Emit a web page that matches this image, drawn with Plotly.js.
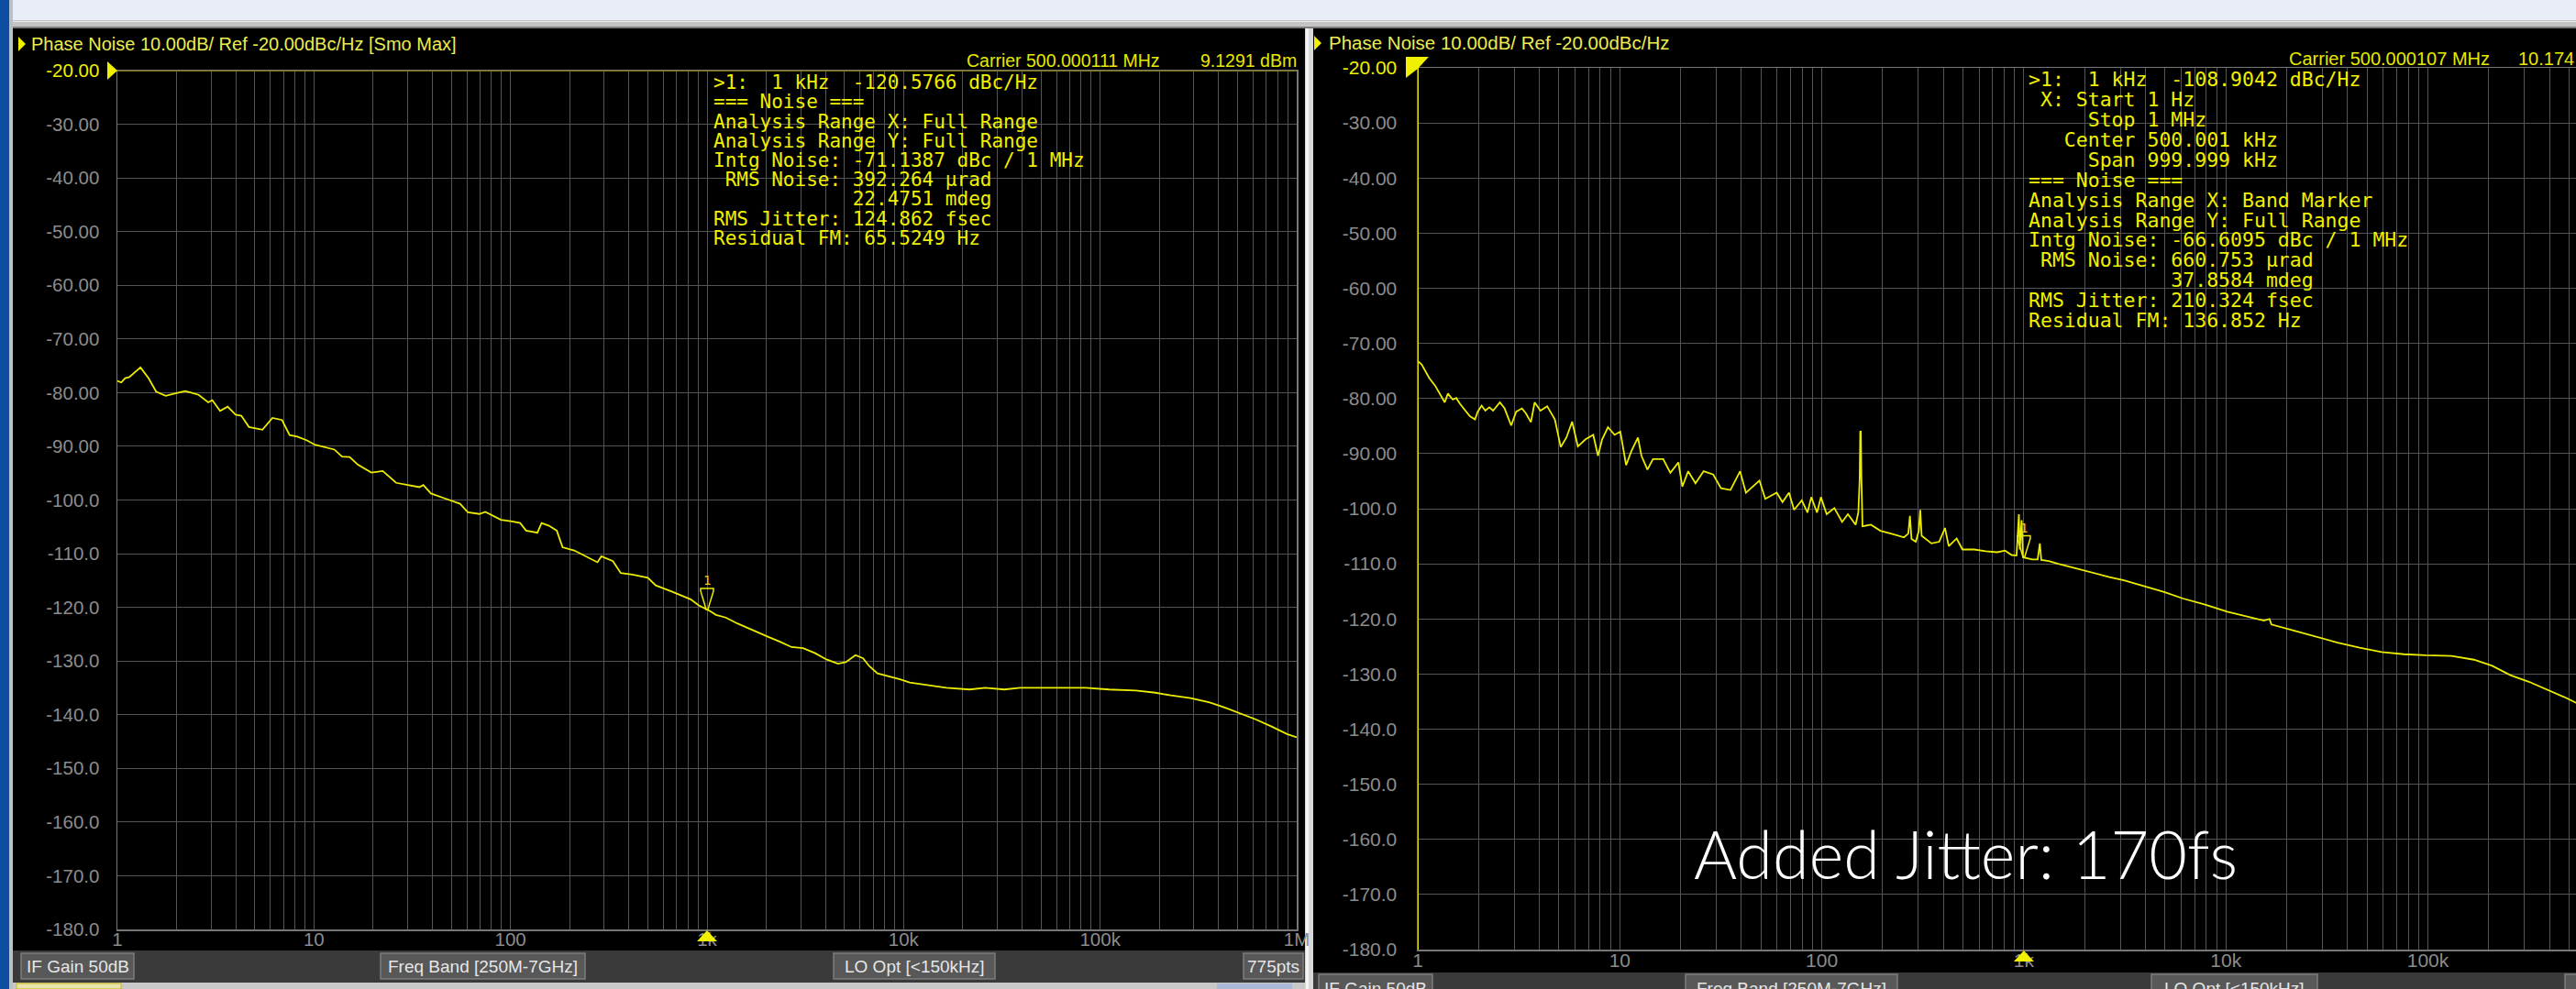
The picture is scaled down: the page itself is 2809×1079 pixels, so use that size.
<!DOCTYPE html>
<html><head><meta charset="utf-8">
<script src="https://cdn.plot.ly/plotly-3.0.1.min.js"></script>
<style>html,body{margin:0;padding:0;overflow:hidden;background:#e9edf7;} #chart{width:2900px;height:1079px;}</style>
</head><body><div id="chart"></div>
<script>
// ---------------- data ----------------
const yTickVals = [-20,-30,-40,-50,-60,-70,-80,-90,-100,-110,-120,-130,-140,-150,-160,-170,-180];
const yTickLabels = ['-20.00','-30.00','-40.00','-50.00','-60.00','-70.00','-80.00','-90.00','-100.0','-110.0','-120.0','-130.0','-140.0','-150.0','-160.0','-170.0','-180.0'];
const xDecades = [1,10,100,1000,10000,100000,1000000];
const xDecadeLabels = ['1','10','100','1k','10k','100k','1M'];

const leftFreq = [1,1.046,1.095,1.15,1.31,1.44,1.575,1.76,2.0,2.21,2.37,2.59,2.9,3.04,3.33,3.64,3.99,4.27,4.67,5.47,6.15,6.88,7.52,8.23,9.23,10.1,12.7,13.9,15.2,16.7,19.6,22.4,26.2,31.4,34.4,36.0,39.4,46.3,55.4,60.7,69.5,74.5,89.4,102,112,120,137,144,157,172,184,211,241,277,290,332,364,417,500,548,657,825,904,1000,1037,1110,1245,1426,1710,2050,2350,2690,3080,3530,4050,4630,5080,5690,6220,6670,7360,8360,9590,10740,13150,16520,21680,26000,32600,39100,53700,84500,111000,152000,191000,229000,288000,361000,433000,518000,621000,745000,893000,1000000];
const leftPN = [-77.8,-78.1,-77.3,-77.1,-75.3,-77.3,-79.8,-80.6,-80.1,-79.7,-80.0,-80.4,-81.8,-81.4,-83.4,-82.6,-84.1,-84.3,-86.4,-86.9,-84.7,-85.1,-87.9,-88.2,-88.9,-89.7,-90.6,-91.9,-92.0,-93.4,-94.9,-94.6,-96.8,-97.3,-97.6,-97.2,-98.8,-99.7,-100.7,-102.3,-102.6,-102.2,-103.7,-104.0,-104.3,-105.7,-106.1,-104.3,-104.8,-105.7,-108.8,-109.4,-110.5,-111.6,-110.5,-111.4,-113.6,-113.9,-114.5,-115.9,-117.0,-118.5,-119.6,-120.4,-120.7,-121.4,-121.9,-123.0,-124.3,-125.5,-126.4,-127.4,-127.6,-128.5,-129.7,-130.5,-130.2,-128.9,-129.5,-130.9,-132.3,-132.8,-133.4,-134.0,-134.5,-135.0,-135.3,-135.0,-135.3,-135.0,-135.0,-135.0,-135.3,-135.5,-135.9,-136.4,-136.9,-137.7,-138.7,-139.8,-140.9,-142.2,-143.6,-144.2];

const rightFreq = [1,1.045,1.14,1.22,1.36,1.41,1.49,1.55,1.62,1.81,1.92,1.98,2.07,2.16,2.26,2.36,2.55,2.69,2.9,3.07,3.28,3.43,3.63,3.79,4.05,4.37,4.77,5.10,5.44,5.81,6.2,6.77,7.39,7.8,8.18,8.74,9.42,10.06,10.75,11.4,12.3,12.8,13.7,14.6,16.4,17.8,19.5,20.4,21.8,23.7,26.0,29.0,31.7,35.3,39.4,42.1,49.1,52.5,59.8,63.9,68.8,72.9,79.6,84.9,88.7,94.7,99.0,105.7,115.4,126,134.7,147,151.6,154,155,156,157,159,175,195,224,255,268,273,278,292,302,307,312,349,381,407,425,465,497,569,647,738,807,870,920,935,945,955,975,990,1100,1170,1200,1220,1330,1480,1740,2150,2650,3130,4020,4950,6140,7890,10160,13060,15450,16440,16800,21630,27800,35700,45900,59000,75900,97500,131000,169000,208000,256000,316000,390000,481000,541000,620000,720000];
const rightPN = [-73.2,-73.8,-76.3,-77.7,-80.7,-79.1,-80.2,-79.9,-81.0,-83.2,-83.8,-82.4,-81.3,-82.2,-81.6,-82.2,-80.7,-81.8,-84.9,-82.4,-81.8,-82.7,-84.3,-80.7,-82.2,-81.4,-83.8,-88.8,-87.1,-84.2,-88.7,-87.4,-86.6,-90.4,-87.4,-85.2,-86.6,-86.0,-92.1,-89.6,-87.1,-90.4,-92.9,-91.0,-91.0,-93.5,-91.6,-96.0,-93.2,-95.4,-93.2,-93.8,-96.3,-96.6,-93.2,-97.1,-94.9,-98.2,-97.1,-98.8,-97.1,-100.2,-98.5,-100.7,-97.9,-100.7,-97.9,-101.0,-99.9,-102.4,-101.0,-102.9,-100.7,-94.5,-86.0,-86.0,-94.3,-103.2,-102.9,-104.0,-104.6,-105.2,-104.5,-101.3,-105.5,-106.0,-104.0,-100.2,-104.9,-106.3,-106.0,-103.5,-106.8,-105.4,-107.4,-107.4,-107.7,-107.9,-107.6,-108.4,-108.5,-103.8,-101.0,-107.4,-102.1,-108.8,-109.2,-109.2,-106.3,-109.3,-109.5,-110.0,-110.7,-111.6,-112.4,-113.0,-114.1,-115.1,-116.3,-117.4,-118.7,-119.6,-120.3,-120.0,-121.0,-122.1,-123.2,-124.3,-125.2,-126.0,-126.4,-126.6,-126.7,-127.4,-128.5,-130.2,-131.4,-132.8,-134.3,-135.2,-136.3,-137.5];

const markerFreq = 1000;
const leftMarkerVal = -120.5766;
const rightMarkerVal = -108.9042;

const leftTitle = 'Phase Noise 10.00dB/ Ref -20.00dBc/Hz [Smo Max]';
const rightTitle = 'Phase Noise 10.00dB/ Ref -20.00dBc/Hz';
const leftCarrier = ['Carrier 500.000111 MHz', '9.1291 dBm'];
const rightCarrier = ['Carrier 500.000107 MHz', '10.174 dBm'];
const leftInfo = [
 '>1:  1 kHz  -120.5766 dBc/Hz',
 '=== Noise ===',
 'Analysis Range X: Full Range',
 'Analysis Range Y: Full Range',
 'Intg Noise: -71.1387 dBc / 1 MHz',
 ' RMS Noise: 392.264 µrad',
 '            22.4751 mdeg',
 'RMS Jitter: 124.862 fsec',
 'Residual FM: 65.5249 Hz'];
const rightInfo = [
 '>1:  1 kHz  -108.9042 dBc/Hz',
 ' X: Start 1 Hz',
 '     Stop 1 MHz',
 '   Center 500.001 kHz',
 '     Span 999.999 kHz',
 '=== Noise ===',
 'Analysis Range X: Band Marker',
 'Analysis Range Y: Full Range',
 'Intg Noise: -66.6095 dBc / 1 MHz',
 ' RMS Noise: 660.753 µrad',
 '            37.8584 mdeg',
 'RMS Jitter: 210.324 fsec',
 'Residual FM: 136.852 Hz'];
const leftButtons = ['IF Gain 50dB','Freq Band [250M-7GHz]','LO Opt [&lt;150kHz]','775pts'];
const rightButtons = ['IF Gain 50dB','Freq Band [250M-7GHz]','LO Opt [&lt;150kHz]',''];
const overlayText = 'Added Jitter: 170fs';

// ---------------- helpers ----------------
const W = 2900, H = 1079;
const px = x => x / W;
const py = y => 1 - y / H;
const nb = s => s.replace(/ /g, '\u00a0');

const gridVals = [];
const gridText = [];
xDecades.forEach((d, i) => {
  if (i < xDecades.length - 1) {
    for (let m = 1; m <= 9; m++) { gridVals.push(m * d); gridText.push(m === 1 ? xDecadeLabels[i] : ''); }
  } else { gridVals.push(d); gridText.push(xDecadeLabels[i]); }
});
const yText = yTickLabels.map((t, i) => i === 0 ? '<span style="color:#f0f000">' + t + '</span>' : t);

const GRID = '#545454';
const LBL = '#8c8c8c';
const YEL = '#ecec00';
const UI = 'Liberation Sans, Arial, sans-serif';
const MONO = 'DejaVu Sans Mono, Liberation Mono, monospace';

function xAx(dom, size, standoff) {
  return {type:'log', range:[0,6], domain:dom, tickvals:gridVals, ticktext:gridText, showgrid:true,
    gridcolor:GRID, gridwidth:1, zeroline:false, showline:true, linecolor:'#777', linewidth:1.5, mirror:true,
    ticks:'', ticklabelstandoff:standoff, tickfont:{family:UI, size:size, color:LBL}, fixedrange:true, tickangle:0};
}
function yAx(dom, size, standoff) {
  return {range:[-180,-20], domain:dom, tickvals:yTickVals, ticktext:yText, showgrid:true, gridcolor:GRID,
    gridwidth:1, zeroline:false, showline:true, linecolor:'#777', linewidth:1.5, mirror:true, ticks:'',
    ticklabelstandoff:standoff, tickfont:{family:UI, size:size, color:LBL}, fixedrange:true};
}

// ---------------- traces ----------------
const traces = [
  {x:leftFreq, y:leftPN, xaxis:'x', yaxis:'y', mode:'lines', line:{color:YEL, width:1.8}, hoverinfo:'skip'},
  {x:rightFreq, y:rightPN, xaxis:'x2', yaxis:'y2', mode:'lines', line:{color:YEL, width:1.8}, hoverinfo:'skip'}
];

// ---------------- shapes ----------------
const rect = (x0,y0,x1,y1,fill,line,lw,layer) => ({type:'rect', xref:'paper', yref:'paper',
  x0:px(x0), x1:px(x1), y0:py(y1), y1:py(y0), fillcolor:fill, line:{color:line||fill, width:lw||0}, layer:layer||'below'});
const shapes = [
  rect(0,0,W,22,'#e9edf7'),
  rect(0,0,10,H,'#0c4ea2'),
  rect(10,0,14,H,'#b8c0cc'),
  rect(14,22,W,31,'#c4c4c4'),
  rect(14,23,W,24,'#e8e8e8'),
  rect(14,29,W,31,'#7c7c7c'),
  // left window
  rect(14,31,1423,1037,'#000000'),
  rect(14,1037,1423,1072,'#3a3a3a'),
  rect(14,1072,1423,H,'#c8c8c8'),
  rect(18,1073,132,H,'#e8e4b0','#c8b800',1),
  rect(1327,1073,1409,H,'#aab8d8'),
  // separator
  rect(1423,31,1432,H,'#d8d8d8'),
  rect(1424,31,1427,H,'#f4f4f4'),
  // right window
  rect(1432,31,W,1061,'#000000'),
  rect(1432,1061,W,H,'#3a3a3a'),
];
const lbx = [[23,146],[415,638],[909,1085],[1356,1421]];
const rbx = [[1438,1562],[1838,2069],[2346,2527],[2797,2880]];
lbx.forEach(b => shapes.push(rect(b[0],1040,b[1],1068,'#585858','#7c7c7c',1.5)));
rbx.forEach(b => shapes.push(rect(b[0],1063,b[1],1095,'#585858','#7c7c7c',1.5)));

// reference-level line (left), band marker line (right)
shapes.push({type:'line', xref:'x domain', yref:'y', x0:0, x1:1, y0:-20, y1:-20, line:{color:'#807800', width:2}, layer:'above'});
shapes.push({type:'line', xref:'x2', yref:'y2 domain', x0:1, x1:1, y0:0, y1:1, line:{color:'#e0e000', width:2}, layer:'above'});
// ref triangles
shapes.push({type:'path', xref:'paper', yref:'paper', path:`M${px(117)},${py(67)} L${px(128)},${py(77)} L${px(117)},${py(87)} Z`, fillcolor:'#f0f000', line:{width:0}, layer:'above'});
shapes.push({type:'path', xref:'paper', yref:'paper', path:`M${px(1533)},${py(62)} L${px(1558)},${py(62)} L${px(1546)},${py(75)} L${px(1533)},${py(85)} Z`, fillcolor:'#f0f000', line:{width:0}, layer:'above'});
// marker funnels on traces
const funnel = 'M-7,24 L7,24 L7,21 L3,8 L1,1 L-1,1 L-3,8 L-7,21 Z';
shapes.push({type:'path', xref:'x', yref:'y', xsizemode:'pixel', ysizemode:'pixel', xanchor:markerFreq, yanchor:leftMarkerVal, path:funnel, line:{color:YEL, width:1.5}, layer:'above'});
shapes.push({type:'path', xref:'x2', yref:'y2', xsizemode:'pixel', ysizemode:'pixel', xanchor:markerFreq, yanchor:rightMarkerVal, path:funnel, line:{color:YEL, width:1.5}, layer:'above'});
// marker triangles on the x axes
shapes.push({type:'path', xref:'x', yref:'paper', xsizemode:'pixel', xanchor:markerFreq, path:`M-11,${py(1027)} L11,${py(1027)} L0,${py(1015)} Z`, fillcolor:'#f0f000', line:{width:0}, layer:'above'});
shapes.push({type:'path', xref:'x2', yref:'paper', xsizemode:'pixel', xanchor:markerFreq, path:`M-11,${py(1049)} L11,${py(1049)} L0,${py(1037)} Z`, fillcolor:'#f0f000', line:{width:0}, layer:'above'});
// title triangles
shapes.push({type:'path', xref:'paper', yref:'paper', path:`M${px(20)},${py(40)} L${px(28)},${py(48)} L${px(20)},${py(56)} Z`, fillcolor:'#f0f000', line:{width:0}, layer:'above'});
shapes.push({type:'path', xref:'paper', yref:'paper', path:`M${px(1433)},${py(39)} L${px(1441)},${py(47)} L${px(1433)},${py(55)} Z`, fillcolor:'#f0f000', line:{width:0}, layer:'above'});

// ---------------- annotations ----------------
const ann = [];
const txt = (t, x, y, size, color, family, xanchor, extra) => Object.assign({text:t, xref:'paper', yref:'paper',
  x:px(x), y:py(y), xanchor:xanchor||'left', yanchor:'middle', showarrow:false,
  font:{family:family||UI, size:size, color:color}}, extra||{});
ann.push(txt(leftTitle, 32, 48, 20, '#ecec50'));
ann.push(txt(rightTitle, 1447, 47, 20.5, '#ecec50'));
ann.push(txt(leftCarrier[0], 1052, 66, 19.5, '#e8e800'));
ann.push(txt(leftCarrier[1], 1416, 66, 19.5, '#e8e800', UI, 'right'));
ann.push(txt(rightCarrier[0], 2494, 64, 20, '#e8e800'));
ann.push(txt(rightCarrier[1], 2744, 64, 20, '#e8e800'));
leftInfo.forEach((l, i) => ann.push(txt(nb(l), 776, 90 + i * 21.25, 21, '#f0f000', MONO)));
rightInfo.forEach((l, i) => ann.push(txt(nb(l), 2210, 87 + i * 21.86, 21.5, '#f0f000', MONO)));
lbx.forEach((b, i) => ann.push(txt(leftButtons[i], (b[0] + b[1]) / 2, 1054, 19, '#e6e6e6', UI, 'center')));
rbx.forEach((b, i) => ann.push(txt(rightButtons[i], (b[0] + b[1]) / 2, 1078, 19, '#e6e6e6', UI, 'center')));
ann.push({text:'1', xref:'x', yref:'y', x:Math.log10(markerFreq), y:leftMarkerVal, yshift:33, showarrow:false, font:{family:MONO, size:14, color:'#f0d000'}});
ann.push({text:'1', xref:'x2', yref:'y2', x:Math.log10(markerFreq), y:rightMarkerVal, yshift:33, showarrow:false, font:{family:MONO, size:14, color:'#f0d000'}});
ann.push({text:overlayText, xref:'paper', yref:'paper', x:px(2143), y:py(931), xanchor:'center', yanchor:'middle', showarrow:false,
  font:{family:'Lato, Open Sans, sans-serif', size:72, weight:300, color:'#ffffff'}});

const layout = {
  width:W, height:H, margin:{l:0, r:0, t:0, b:0, pad:0},
  paper_bgcolor:'#e9edf7', plot_bgcolor:'#000000', showlegend:false,
  xaxis: Object.assign(xAx([px(128), px(1414)], 20.5, -8), {anchor:'y'}),
  yaxis: Object.assign(yAx([py(1014), py(77)], 20.5, 14), {anchor:'x'}),
  xaxis2: Object.assign(xAx([px(1546), px(1546 + 6 * 220.3)], 21, -8), {anchor:'y2'}),
  yaxis2: Object.assign(yAx([py(1036), py(74)], 21, 17), {anchor:'x2'}),
  shapes: shapes, annotations: ann
};
Plotly.newPlot('chart', traces, layout, {displayModeBar:false, staticPlot:true});
</script></body></html>
